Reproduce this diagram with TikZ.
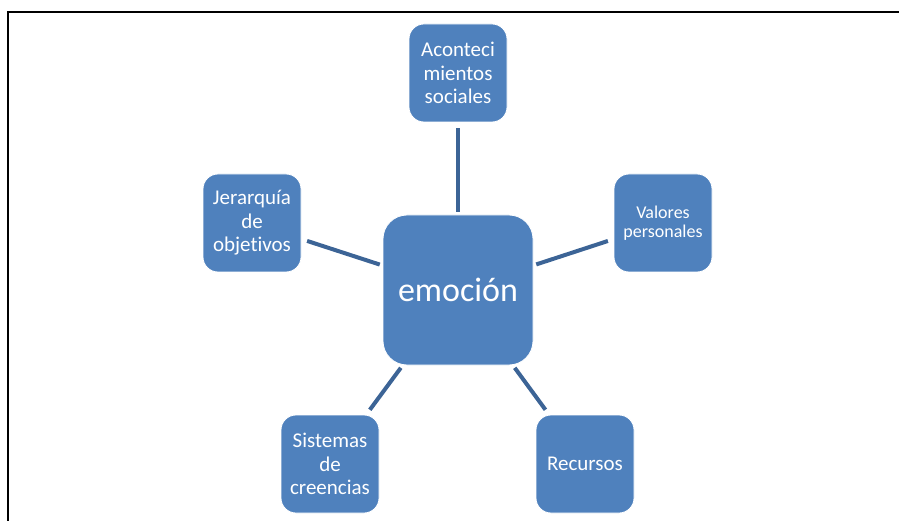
\documentclass[tikz,border=0pt]{standalone}
\usepackage{fontspec}
\setmainfont{Carlito}[Ligatures=NoCommon]
\definecolor{cajaazul}{RGB}{79,129,189}
\definecolor{lineaazul}{RGB}{60,100,150}

\begin{document}
\begin{tikzpicture}[x=1pt, y=-1pt,
    caja/.style={fill=cajaazul, draw=white, line width=0.8pt,
      rounded corners=15pt, minimum width=98pt, minimum height=98pt,
      text=white, align=center, inner sep=2pt,
      font=\fontsize{21}{23.5}\selectfont},
    enlace/.style={lineaazul, line width=4pt, shorten <=3pt, shorten >=6pt}]

    % Marco (solo arriba e izquierda)
    \useasboundingbox (0,0) rectangle (899,521);
    \draw[line width=1.8pt] (8,521) -- (8,12) -- (899,12);

    % Nodo central
    \node[caja, minimum width=150pt, minimum height=150pt, rounded corners=24pt,
      font=\fontsize{34}{40}\selectfont] (emocion) at (458,290) {emoción};

    % Nodos alrededor
    \node[caja] (acont) at (458,73) {Aconteci\\mientos\\sociales};
    \node[caja, font=\fontsize{18}{19.5}\selectfont] (valores) at (663,223) {Valores\\personales};
    \node[caja] (recursos) at (585,464) {Recursos};
    \node[caja] (sistemas) at (330,464) {Sistemas\\de\\creencias};
    \node[caja] (jerarquia) at (252,223) {Jerarquía\\de\\objetivos};

    % Enlaces desde el centro
    \draw[enlace] (emocion) -- (acont);
    \draw[enlace] (emocion) -- (valores);
    \draw[enlace] (emocion) -- (recursos);
    \draw[enlace] (emocion) -- (sistemas);
    \draw[enlace] (emocion) -- (jerarquia);

\end{tikzpicture}
\end{document}
